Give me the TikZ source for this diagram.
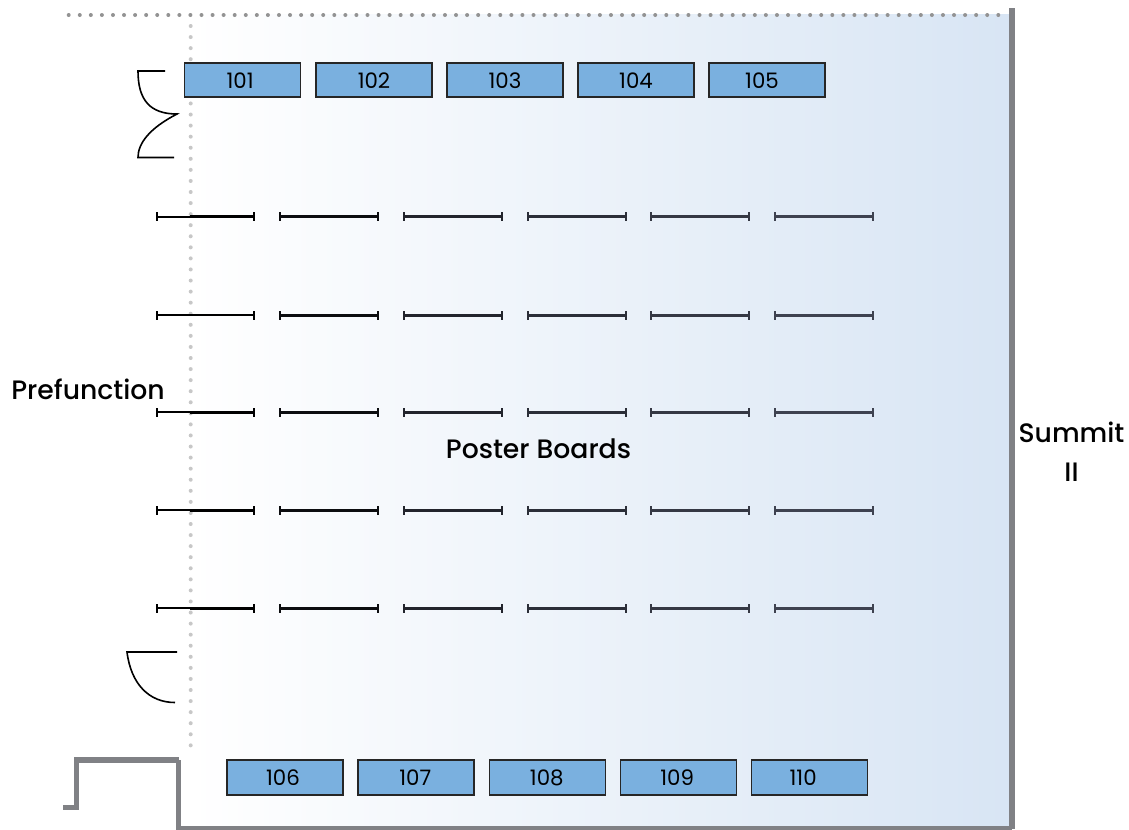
\documentclass[tikz,border=0pt]{standalone}
\usepackage{fontspec}
\setmainfont{Poppins}
\newfontfamily\roomfont{Poppins Medium}
\usetikzlibrary{arrows.meta}
\definecolor{wallgray}{RGB}{128,129,133}
\definecolor{boothblue}{RGB}{122,176,223}
\definecolor{roomblue}{RGB}{216,229,244}
\definecolor{boardgray}{RGB}{62,66,80}
\tikzset{
	booth/.style={draw=black!85,line width=1.4pt,fill=boothblue,minimum width=87pt,minimum height=26pt,inner sep=0pt,text depth=0pt,font=\fontsize{16}{16}\selectfont},
	board/.style={{Bar[width=6.5pt,line width=1.2pt]}-{Bar[width=6.5pt,line width=1.2pt]},line width=2.2pt},
	wall/.style={draw=wallgray,line width=3.9pt,miter limit=10},
	door/.style={draw=black,line width=1.2pt},
	roomlabel/.style={font=\fontsize{20}{20}\selectfont\roomfont,inner sep=0pt}
}
\begin{document}
\begin{tikzpicture}[x=0.75pt,y=-0.75pt]
	\useasboundingbox (0,0) rectangle (1129,829);
	\shade [left color=white,right color=roomblue] (190,14) rectangle (1010,826);
	\draw [gray!85,line width=3pt,line cap=round,dash pattern=on 0pt off 8.3pt] (68.7,15) -- (1000,15);
	\draw [black!22,line width=3pt,line cap=round,dash pattern=on 0pt off 8.3pt] (190.7,26) -- (190.7,748);
	\draw [wall] (178.5,760) -- (76.5,760) -- (76.5,807.5) -- (63,807.5);
	\draw [wall] (1012,829) -- (178.5,829) -- (178.5,760);
	\draw [wall,line width=4.5pt] (1012,8) -- (1012,829);
	\foreach \boothnum/\boothx/\boothpad in {101/242.5/3.5,102/374/0,103/505/0,104/636/0,105/767/7.5}
		\node [booth] (b\boothnum) at (\boothx,80) {\raisebox{-1pt}{\boothnum}\kern\boothpad pt};
	\foreach \boothnum/\boothx/\boothpad in {106/285/3,107/416/1,108/547.5/1,109/678.5/2,110/809.5/9.5}
		\node [booth] (b\boothnum) at (\boothx,777.5) {\boothnum\kern\boothpad pt};
	\foreach \rowy in {216.6,315.4,412.4,510.4,608.4} {
		\draw [black,{Bar[width=6.5pt,line width=1.2pt]}-,line width=1.4pt] (156,\rowy) -- (190,\rowy);
		\foreach \boardx/\boardtone in {279/20,403/55,527/70,650/85,774/100}
			\draw [board,boardgray!\boardtone!black] (\boardx,\rowy) -- ++(100,0);
	}
	\foreach \rowy in {216.6,412.4,510.4,608.4}
		\draw [board,black,-{Bar[width=6.5pt,line width=1.2pt]}] (190,\rowy) -- (255,\rowy);
	\draw [board,black,line width=1.4pt,-{Bar[width=6.5pt,line width=1.2pt]}] (190,315.4) -- (255,315.4);
	\draw [door] (165,71) -- (138,71) .. controls (138,100) and (150,114) .. (177,114) .. controls (150,128) and (138,143) .. (138,157.5) -- (174,157.5);
	\draw [door] (177,652) -- (127,652) .. controls (131,684) and (149,702.5) .. (175,702.5);
	\node [roomlabel] (prefunction) at (88,389) {Prefunction};
	\node [roomlabel] (posterboards) at (538.5,449) {Poster Boards};
	\node [roomlabel,align=center] (summit) at (1071.5,452) {Summit\\[9.5pt]II};
\end{tikzpicture}
\end{document}
